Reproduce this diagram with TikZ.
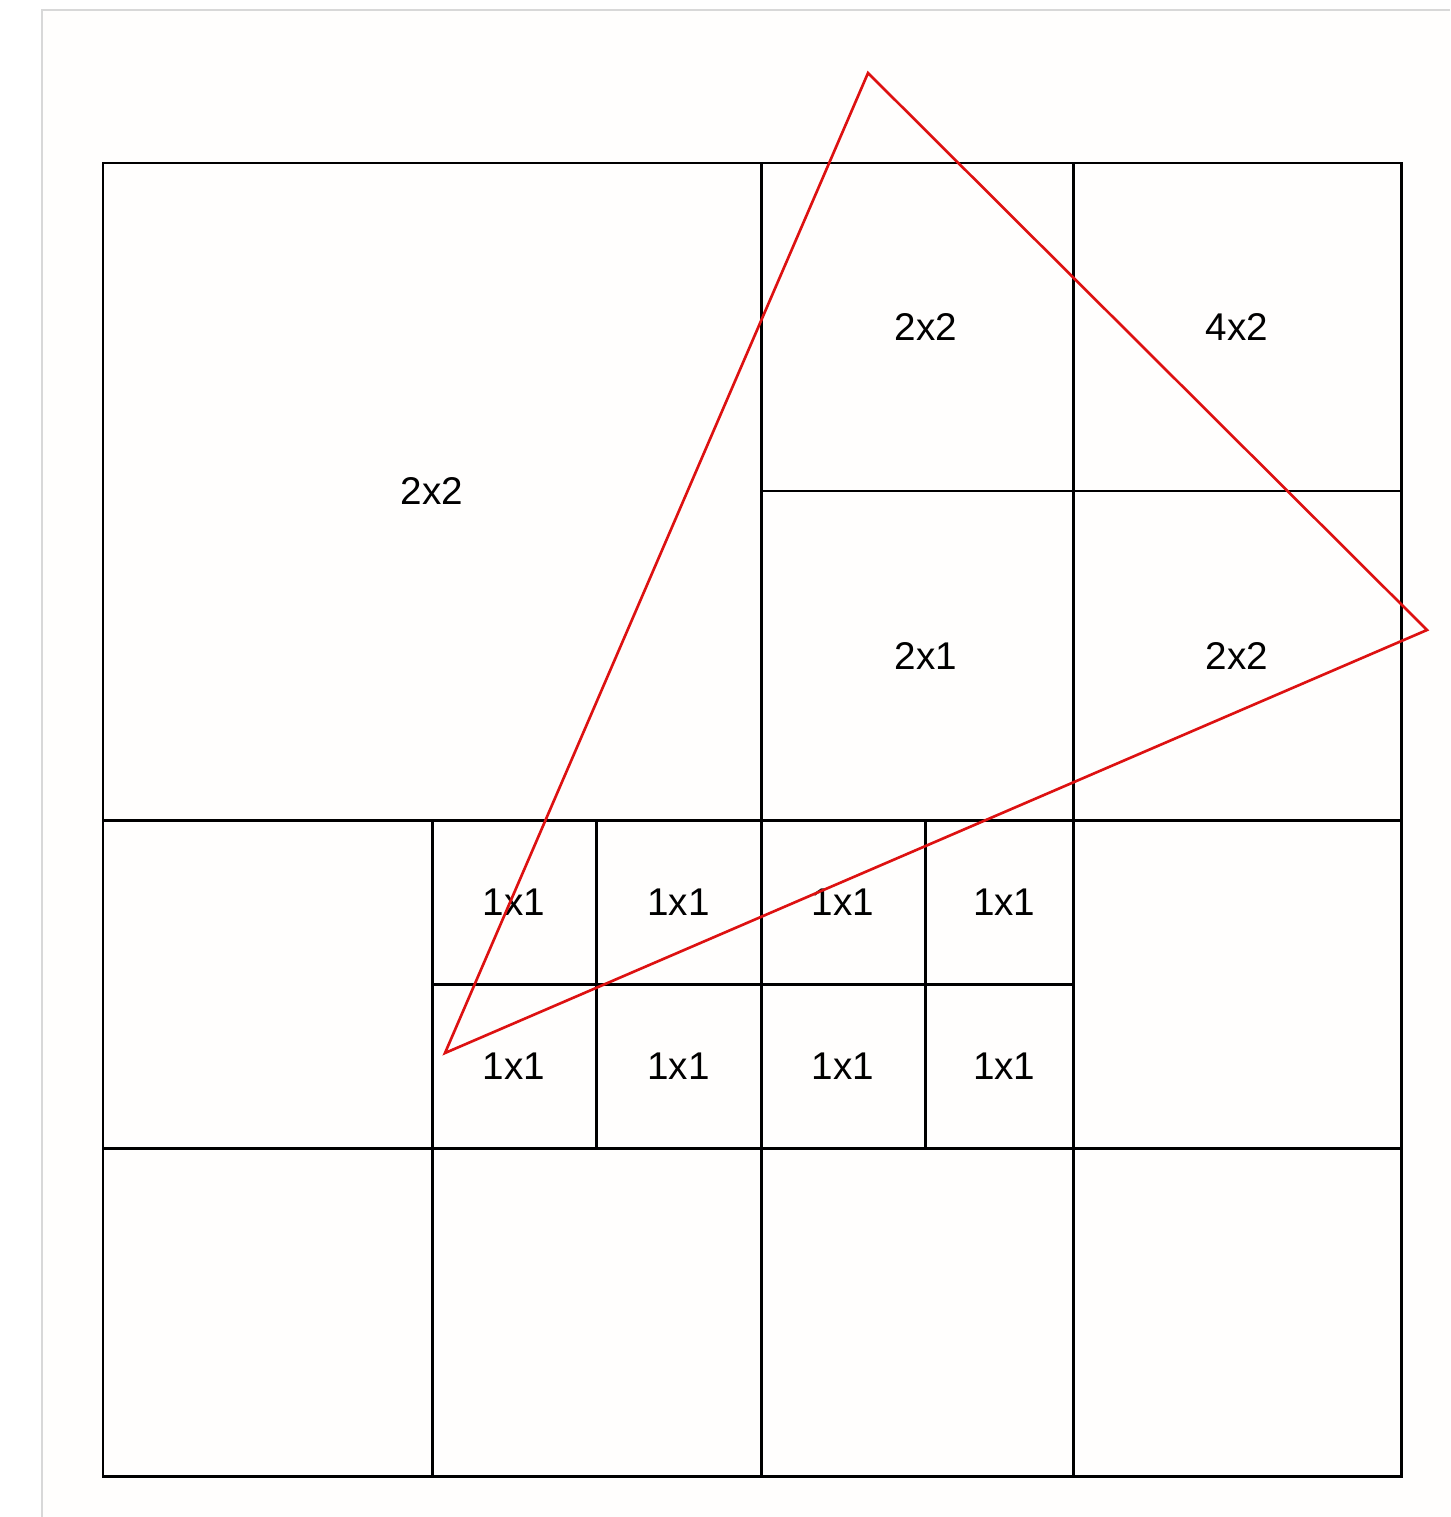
\documentclass[tikz,border=0pt]{standalone}
\usepackage{fontspec}
\setmainfont{Liberation Sans}
\usetikzlibrary{fit}
\definecolor{pagebg}{HTML}{FFFEFD}
\definecolor{edgegray}{HTML}{D8D8D8}
\definecolor{trired}{HTML}{DD1111}

\begin{document}
\begin{tikzpicture}[
        x=0.02cm, y=-0.02cm,
        font=\fontsize{22}{26}\selectfont,
        cell/.style={rectangle, draw=black, line width=1.7pt, inner sep=0pt},
        lbl/.style={inner sep=0pt, anchor=center},
        tri/.style={draw=trired, line width=1.5pt, line join=miter}
    ]
    \useasboundingbox (0,0) rectangle (1450,1517);
    \fill[white] (0,0) rectangle (1450,1517);
    \fill[pagebg] (42,10) rectangle (1450,1517);
    \draw[edgegray, line width=1pt] (42,1517) -- (42,10) -- (1450,10);

    % top half
    \node[cell, fit={(103,163) (761,820)}] (big) {};
    \node[cell, fit={(761,163) (1073,491)}] (ra) {};
    \node[cell, fit={(1073,163) (1401,491)}] (rb) {};
    \node[cell, fit={(761,491) (1073,820)}] (rc) {};
    \node[cell, fit={(1073,491) (1401,820)}] (rd) {};
    \node[lbl] at (big.center) {2x2};
    \node[lbl, xshift=5pt] at (ra.center) {2x2};
    \node[lbl] at (rb.center) {4x2};
    \node[lbl, xshift=5pt] at (rc.center) {2x1};
    \node[lbl] at (rd.center) {2x2};

    % middle row
    \node[cell, fit={(103,820) (432,1148)}] (ml) {};
    \node[cell, fit={(1073,820) (1401,1148)}] (mr) {};
    \foreach \xa/\xb [count=\i] in {432/596, 596/761, 761/925, 925/1073} {
        \node[cell, fit={(\xa,820) (\xb,984)}] (up\i) {};
        \node[cell, fit={(\xa,984) (\xb,1148)}] (lo\i) {};
    }
    \foreach \i/\dx in {1/0pt, 2/0pt, 3/0pt, 4/3pt} {
        \node[lbl, xshift=\dx] at (up\i.center) {1x1};
        \node[lbl, xshift=\dx] at (lo\i.center) {1x1};
    }

    % bottom row
    \foreach \xa/\xb [count=\i] in {103/432, 432/761, 761/1073, 1073/1401}
        \node[cell, fit={(\xa,1148) (\xb,1476)}] (bot\i) {};

    % triangle
    \coordinate (ta) at (868,73);
    \coordinate (tb) at (1427,630);
    \coordinate (tc) at (445,1053);
    \draw[tri] (ta) -- (tb) -- (tc) -- cycle;
\end{tikzpicture}
\end{document}
